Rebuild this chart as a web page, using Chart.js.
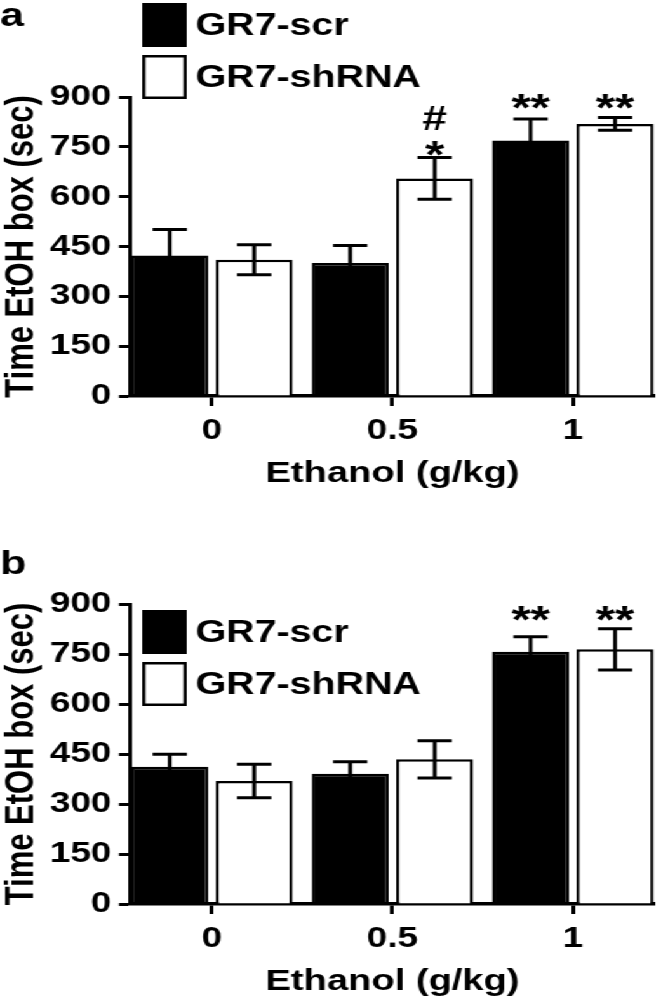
<!DOCTYPE html>
<html>
<head>
<meta charset="utf-8">
<script src="https://cdn.jsdelivr.net/npm/chart.js@4.4.1/dist/chart.umd.min.js"></script>
<style>
  html, body { margin: 0; padding: 0; background: #fff; }
  /* the source figure is stretched sideways, so the charts are drawn narrow and widened */
  #wrap { width: 520px; height: 1008px; transform: scaleX(1.27); transform-origin: 0 0; }
  canvas { display: block; }
</style>
</head>
<body>
<div id="wrap">
  <canvas id="chartA" width="520" height="500"></canvas>
  <canvas id="chartB" width="520" height="508"></canvas>
</div>
<script>
const doses = ["0", "0.5", "1"];
const seriesNames = ["GR7-scr", "GR7-shRNA"];
const yTicks = [0, 150, 300, 450, 600, 750, 900];

// panel a
const scrA = [423, 400, 769];
const scrSemA = [78, 53, 65];
const shA = [410, 655, 819];
const shSemA = [45, 63, 19];
// panel b
const scrB = [412, 391, 757];
const scrSemB = [37, 36, 45];
const shB = [369, 434, 764];
const shSemB = [50, 56, 62];

// significance marks: [series, dose index, text, value at text baseline]
const marksA = [[1, 1, "*", 686], [1, 1, "#", 801], [0, 2, "**", 828], [1, 2, "**", 828]];
const marksB = [[0, 2, "**", 813], [1, 2, "**", 813]];

const FONT = '"Liberation Sans", Arial, Helvetica, sans-serif';
Chart.defaults.font.family = FONT;
Chart.defaults.color = "#000";

const errorBars = {
  id: "errorBars",
  afterDatasetsDraw(chart, args, opts) {
    const ctx = chart.ctx;
    const y = chart.scales.y;
    ctx.save();
    ctx.strokeStyle = "#000";
    ctx.lineWidth = opts.width;
    chart.data.datasets.forEach((ds, i) => {
      chart.getDatasetMeta(i).data.forEach((bar, j) => {
        const v = ds.data[j].y, e = ds.sem[j];
        const top = y.getPixelForValue(v + e);
        const bot = y.getPixelForValue(v - e);
        ctx.beginPath();
        ctx.moveTo(bar.x, top); ctx.lineTo(bar.x, bot);
        ctx.moveTo(bar.x - opts.cap, top); ctx.lineTo(bar.x + opts.cap, top);
        ctx.moveTo(bar.x - opts.cap, bot); ctx.lineTo(bar.x + opts.cap, bot);
        ctx.stroke();
      });
    });
    ctx.restore();
  }
};

const sigMarks = {
  id: "sigMarks",
  afterDatasetsDraw(chart, args, opts) {
    const ctx = chart.ctx;
    const y = chart.scales.y;
    ctx.save();
    ctx.fillStyle = "#000";
    ctx.textAlign = "center";
    ctx.textBaseline = "alphabetic";
    opts.marks.forEach(([s, j, txt, val]) => {
      const bar = chart.getDatasetMeta(s).data[j];
      ctx.font = "bold " + (txt === "#" ? 35 : 39) + "px " + FONT;
      ctx.fillText(txt, bar.x, y.getPixelForValue(val));
    });
    ctx.restore();
  }
};

const boxLegend = {
  id: "boxLegend",
  afterDraw(chart, args, opts) {
    const ctx = chart.ctx;
    ctx.save();
    ctx.font = "bold 31px " + FONT;
    ctx.textBaseline = "middle";
    chart.data.datasets.forEach((ds, i) => {
      const top = opts.y + i * (opts.boxH + opts.gap);
      ctx.fillStyle = ds.backgroundColor;
      ctx.fillRect(opts.x, top, opts.boxW, opts.boxH);
      ctx.strokeStyle = "#000";
      ctx.lineWidth = 2.5;
      ctx.strokeRect(opts.x + 1.25, top + 1.25, opts.boxW - 2.5, opts.boxH - 2.5);
      ctx.fillStyle = "#000";
      ctx.fillText(ds.label, opts.x + opts.boxW + 7, top + opts.boxH / 2 + 1);
    });
    ctx.restore();
  }
};

function makeChart(id, letter, scr, scrSem, sh, shSem, marks, lay) {
  return new Chart(document.getElementById(id), {
    type: "bar",
    data: {
      datasets: [
        {
          label: seriesNames[0],
          data: scr.map((v, i) => ({ x: i, y: v })),
          sem: scrSem,
          backgroundColor: "#000",
          borderColor: "#000",
          borderWidth: 2.5,
        },
        {
          label: seriesNames[1],
          data: sh.map((v, i) => ({ x: i, y: v })),
          sem: shSem,
          backgroundColor: "#fff",
          borderColor: "#000",
          borderWidth: 2.5,
        },
      ],
    },
    options: {
      responsive: false,
      animation: false,
      categoryPercentage: 0.936,
      barPercentage: 0.911,
      layout: { padding: { left: 0, right: 4.3, top: 0, bottom: 0 } },
      plugins: {
        legend: { display: false },
        tooltip: { enabled: false },
        title: {
          display: true,
          text: letter,
          align: "start",
          font: { size: 34, weight: "bold", lineHeight: 1 },
          padding: lay.title,
        },
        errorBars: { width: 3, cap: 13.5 },
        sigMarks: { marks: marks },
        boxLegend: lay.legend,
      },
      scales: {
        x: {
          type: "linear",
          min: -0.454,
          max: 2.455,
          offset: false,
          afterBuildTicks: (s) => { s.ticks = doses.map((d, i) => ({ value: i })); },
          afterFit: (s) => { s.height = lay.xh; },
          ticks: {
            callback: (v) => doses[v],
            font: { size: 29, weight: "bold" },
            padding: 8,
            maxRotation: 0,
          },
          grid: { offset: false, drawOnChartArea: false, drawTicks: true, tickLength: 10, tickWidth: 3, tickColor: "#000" },
          border: { color: "#000", width: 3.5 },
          title: {
            display: true,
            text: "Ethanol (g/kg)",
            font: { size: 30, weight: "bold", lineHeight: 1.2 },
            padding: { top: 0, bottom: 8 },
          },
        },
        y: {
          min: 0,
          max: 900,
          afterBuildTicks: (s) => { s.ticks = yTicks.map((v) => ({ value: v })); },
          afterFit: (s) => { s.width = 102.4; },
          ticks: { font: { size: 29, weight: "bold" }, padding: 6 },
          grid: { drawOnChartArea: false, tickLength: 8.7, tickWidth: 3, tickColor: "#000" },
          border: { color: "#000", width: 3 },
          title: {
            display: true,
            text: "Time EtOH box (sec)",
            font: { size: 31, weight: "bold", lineHeight: 1.1 },
            padding: 0,
          },
        },
      },
    },
    plugins: [errorBars, sigMarks, boxLegend],
  });
}

makeChart("chartA", "a", scrA, scrSemA, shA, shSemA, marksA, {
  title: { top: 0, bottom: 63 },
  xh: 104,
  legend: { x: 112, y: 3, boxW: 35, boxH: 44, gap: 8 },
});
makeChart("chartB", "b", scrB, scrSemB, shB, shSemB, marksB, {
  title: { top: 48, bottom: 22 },
  xh: 104,
  legend: { x: 112, y: 110, boxW: 35, boxH: 44, gap: 8 },
});
</script>
</body>
</html>
